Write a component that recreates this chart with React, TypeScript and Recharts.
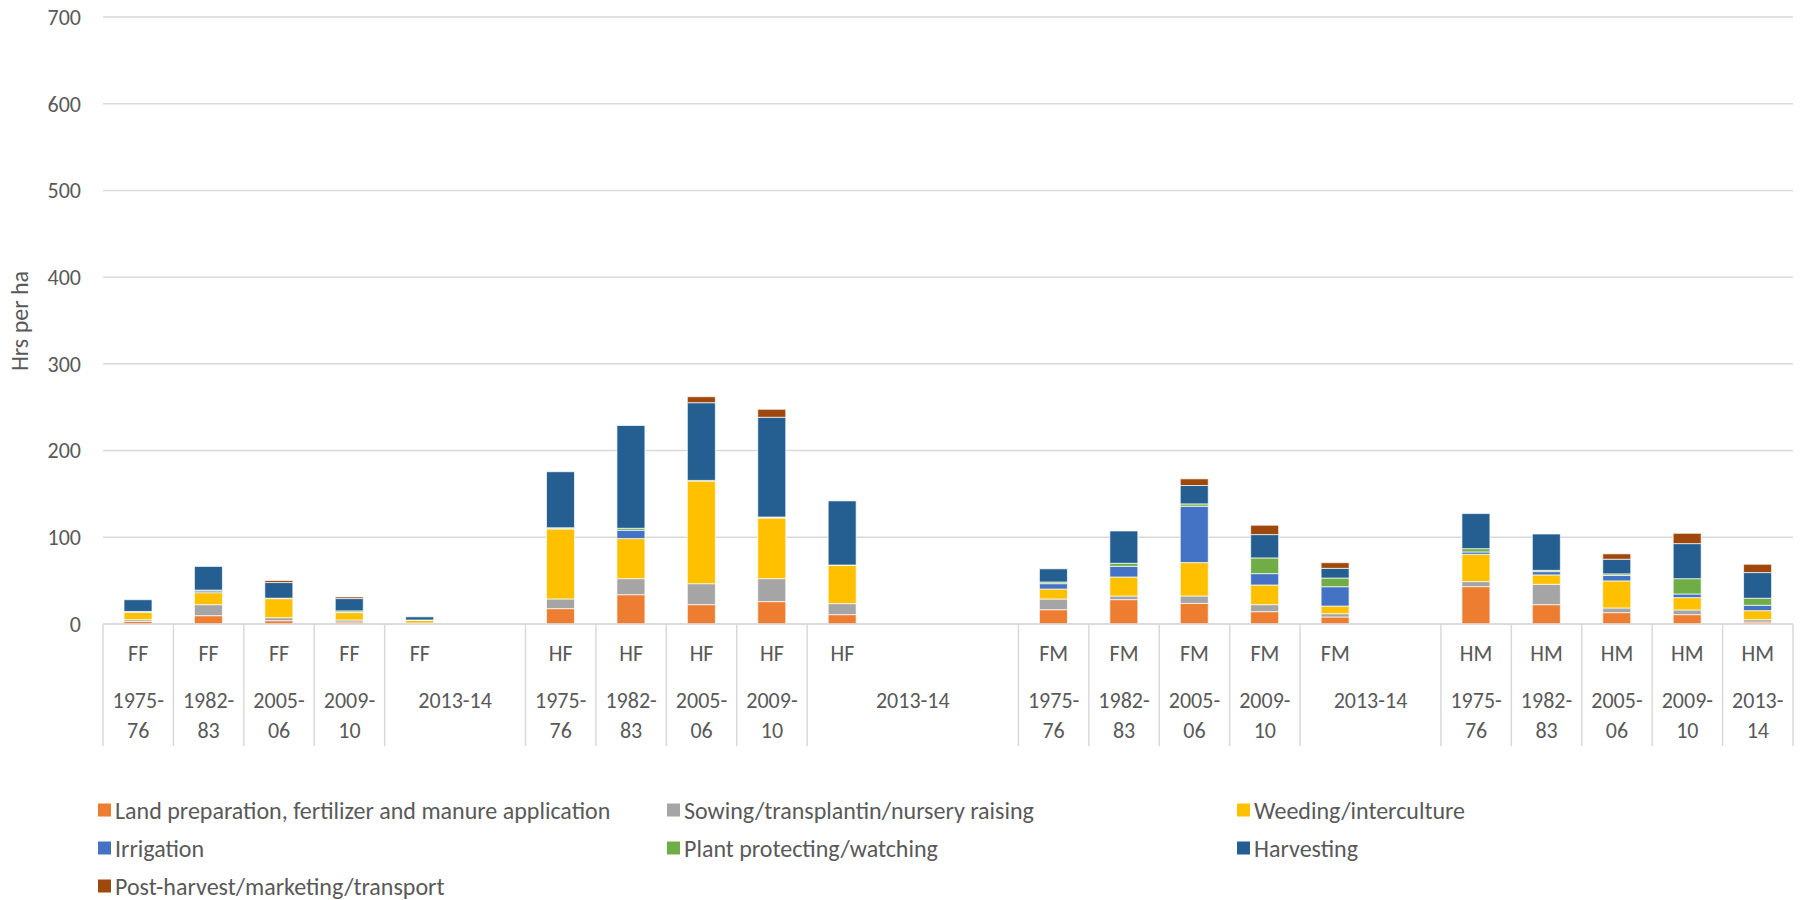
import React from "react";
import { BarChart, Bar, XAxis, YAxis, CartesianGrid } from "recharts";

// category slots (blank slots are where the year cell spans more than one row)
const innerLabels = [
  "FF", "FF", "FF", "FF", "FF", "",
  "HF", "HF", "HF", "HF", "HF", "", "",
  "FM", "FM", "FM", "FM", "FM", "",
  "HM", "HM", "HM", "HM", "HM",
];
const yearLabels = [
  "1975-76", "1982-83", "2005-06", "2009-10", "2013-14", "",
  "1975-76", "1982-83", "2005-06", "2009-10", "2013-14", "", "",
  "1975-76", "1982-83", "2005-06", "2009-10", "2013-14", "",
  "1975-76", "1982-83", "2005-06", "2009-10", "2013-14",
];
const yearSpans = [
  1, 1, 1, 1, 2, 0,
  1, 1, 1, 1, 3, 0, 0,
  1, 1, 1, 1, 2, 0,
  1, 1, 1, 1, 1,
];

const landPrep = [3, 9.6, 3.8, 2.3, 0.6, null, 17.7, 33.8, 22.3, 25.8, 10.8, null, null, 16.5, 28.1, 23.8, 14.2, 8.1, null, 43.1, 22.3, 13.1, 10.8, 2.3];
const sowing = [2, 12.7, 3.5, 2.3, 0.5, null, 11.2, 18.5, 24.2, 26.5, 12.7, null, null, 12.3, 4.2, 8.5, 8.1, 3.8, null, 5.8, 23.5, 5.4, 5.4, 2.7];
const weeding = [8.5, 13.8, 21.9, 8.5, 3, null, 80.8, 46.2, 118.5, 70, 44.2, null, null, 11.5, 21.9, 38.5, 22.7, 8.8, null, 31.5, 10.8, 31.2, 14.2, 10.4];
const irrigation = [0.5, 2, 0.3, 0.5, 0.3, null, 0.3, 9.6, 0.3, 0.3, 0, null, null, 6.2, 12.3, 65, 13.1, 22.3, null, 2.7, 3.8, 6.2, 4.2, 6.2];
const plantProtect = [0.5, 1, 0.3, 1.5, 0.2, null, 1, 2.3, 0.3, 0.8, 0.3, null, null, 1.9, 3.5, 2.7, 18.1, 10, null, 3.8, 1.5, 1.9, 17.7, 8.1];
const harvesting = [13.5, 27.3, 18, 14.2, 3.7, null, 64.6, 118.5, 89.6, 115, 74.2, null, null, 15.4, 37.3, 21.2, 26.9, 11.2, null, 40.4, 41.9, 16.9, 40.4, 29.6];
const postHarvest = [0, 0, 2.3, 1.9, 0, null, 0, 0, 6.9, 9.2, 0.3, null, null, 0.5, 0, 7.7, 10.8, 6.5, null, 0, 0, 6.2, 11.9, 9.6];

const yTicks = [0, 100, 200, 300, 400, 500, 600, 700];

const series = [
  { key: "land", name: "Land preparation, fertilizer and manure application", color: "#ED7D31", values: landPrep },
  { key: "sowing", name: "Sowing/transplantin/nursery raising", color: "#A5A5A5", values: sowing },
  { key: "weeding", name: "Weeding/interculture", color: "#FFC000", values: weeding },
  { key: "irrigation", name: "Irrigation", color: "#4472C4", values: irrigation },
  { key: "plant", name: "Plant protecting/watching", color: "#70AD47", values: plantProtect },
  { key: "harvest", name: "Harvesting", color: "#255E91", values: harvesting },
  { key: "post", name: "Post-harvest/marketing/transport", color: "#9E480E", values: postHarvest },
];

const data = innerLabels.map((_, i) => {
  const row: Record<string, any> = { slot: "s" + i };
  series.forEach((s) => { row[s.key] = s.values[i]; });
  return row;
});

const W = 1804;
const H = 900;
const M = { top: 17, right: 11, left: 0, bottom: 0 };
const Y_W = 103;
const X_H = 276;
const BAND = (W - M.left - M.right - Y_W) / innerLabels.length;
const FONT = "Carlito, Calibri, Lato, sans-serif";
const TXT = "#595959";
const GRID = "#d9d9d9";

function CategoryTick(props: any) {
  const { x, y, payload } = props;
  const i = Number(String(payload.value).slice(1));
  const span = yearSpans[i];
  const year = yearLabels[i];
  const yx = x + ((span - 1) * BAND) / 2;
  const lines = span === 1 ? [year.split("-")[0] + "-", year.split("-")[1]] : [year];
  return (
    <g>
      {span > 0 && <line x1={x - BAND / 2} x2={x - BAND / 2} y1={y} y2={y + 122} stroke={GRID} strokeWidth={1.5} />}
      {i === innerLabels.length - 1 && <line x1={x + BAND / 2} x2={x + BAND / 2} y1={y} y2={y + 122} stroke={GRID} strokeWidth={1.5} />}
      {innerLabels[i] && (
        <text x={x} y={y + 32} textAnchor="middle" dominantBaseline="middle" fill={TXT} fontSize={22} fontFamily={FONT}>
          {innerLabels[i]}
        </text>
      )}
      {year && lines.map((ln, k) => (
        <text key={k} x={yx} y={y + 79} dy={k * 30} textAnchor="middle" dominantBaseline="middle" fill={TXT} fontSize={22} fontFamily={FONT}>
          {ln}
        </text>
      ))}
    </g>
  );
}

export default function App() {
  return (
    <div style={{ position: "absolute", left: 0, top: 0, width: W, height: H, background: "#fff", fontFamily: FONT }}>
      <BarChart width={W} height={H} data={data} margin={M}>
        <CartesianGrid vertical={false} stroke={GRID} strokeWidth={1.5} />
        <XAxis
          dataKey="slot"
          interval={0}
          height={X_H}
          tickLine={false}
          tickSize={0}
          tickMargin={0}
          axisLine={{ stroke: GRID, strokeWidth: 1.5 }}
          tick={<CategoryTick />}
        />
        <YAxis
          width={Y_W}
          domain={[0, 700]}
          ticks={yTicks}
          tickLine={false}
          axisLine={false}
          tickMargin={16}
          tick={{ fill: TXT, fontSize: 22, fontFamily: FONT }}
        />
        {series.map((s) => (
          <Bar
            key={s.key}
            dataKey={s.key}
            name={s.name}
            stackId="a"
            fill={s.color}
            barSize={28}
            stroke="#ffffff"
            strokeWidth={0.7}
            isAnimationActive={false}
          />
        ))}
      </BarChart>

      <div style={{
        position: "absolute", left: 19, top: 321, transform: "translate(-50%, -50%) rotate(-90deg)",
        color: TXT, fontSize: 24, whiteSpace: "nowrap",
      }}>
        Hrs per ha
      </div>

      {series.map((s, i) => {
        const col = i % 3;
        const row = Math.floor(i / 3);
        const left = [98, 667, 1237][col];
        const top = [810, 848, 886][row];
        return (
          <div key={s.key} style={{
            position: "absolute", left, top, transform: "translateY(-50%)",
            display: "flex", alignItems: "center", color: TXT, fontSize: 24, whiteSpace: "nowrap",
          }}>
            <span style={{ width: 13, height: 13, background: s.color, marginRight: 4, display: "inline-block" }} />
            {s.name}
          </div>
        );
      })}
    </div>
  );
}
